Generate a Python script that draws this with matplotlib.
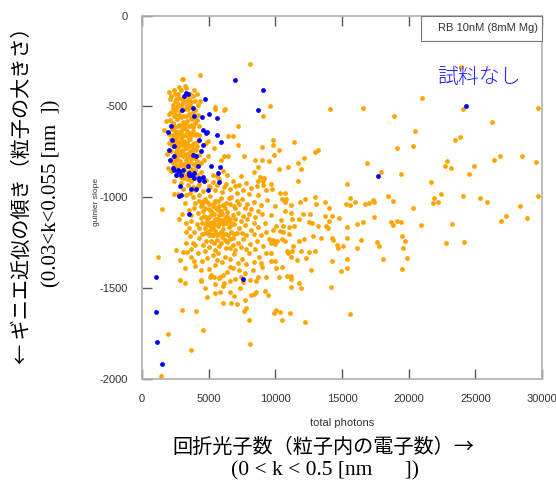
import matplotlib
matplotlib.use("Agg")
import matplotlib.pyplot as plt
from matplotlib.patches import Rectangle

plt.rcParams['axes.unicode_minus'] = False
plt.rcParams['font.family'] = ['Liberation Sans', 'DejaVu Sans']

# RB 10nM (8mM Mg) : points (total photons, guinier slope)
orange_pts = [
    # amas du haut
    (3000, -350), (3100, -350), (4375, -324), (2050, -419), (2400, -410), (2200, -440),
    (3600, -430), (3800, -445), (2800, -395), (3300, -400), (2600, -460), (3450, -470),
    (2675, -434), (2550, -459), (2125, -459), (4375, -472), (4175, -491), (3675, -478),
    (2900, -410), (3200, -440), (3500, -460), (2750, -455), (3000, -460), (3950, -470), (2450, -470),
    (2350, -490), (2700, -485), (3050, -480), (3350, -495), (3700, -505), (4000, -520),
    (2200, -530), (2500, -520), (2850, -525), (3200, -515), (3550, -540), (3900, -550),
    (2400, -555), (2950, -560), (3300, -550), (4200, -545),
    (2100, -575), (2300, -590), (2600, -570), (2800, -600), (3100, -585), (3400, -580),
    (3650, -600), (3950, -590), (4300, -610), (2250, -625), (2500, -615), (2750, -640),
    (3000, -630), (3250, -620), (3500, -645), (3800, -635), (4100, -650), (2050, -650),
    (2650, -660), (3350, -665), (1800, -582), (1675, -628),
    (2200, -680), (2450, -690), (2900, -675), (3150, -690), (3600, -680), (3900, -700),
    (4200, -690), (2350, -720), (2700, -725), (3000, -715), (3300, -730), (3550, -720),
    (3750, -745), (4050, -740), (2150, -745), (2550, -750), (2850, -760), (3450, -760),
    (2300, -780), (2650, -790), (3100, -775), (3700, -790), (4000, -785), (2450, -820),
    (2800, -830), (3150, -815), (3400, -830), (3650, -845), (3950, -825), (4400, -810),
    (2200, -855), (3000, -860), (1925, -839),
    (2600, -875), (3250, -880), (3550, -895), (3850, -870), (4150, -880), (2400, -910),
    (2900, -920), (3450, -935), (4300, -925), (3100, -955), (3800, -945), (4600, -905), (5000, -940),
    (2450, -540), (2750, -545), (3100, -550), (3450, -515), (3750, -570), (2350, -600),
    (2950, -605), (3250, -595), (3550, -610), (3850, -615), (2600, -640), (2850, -650),
    (3150, -655), (3700, -660), (2450, -705), (2750, -695), (3050, -700), (3400, -700),
    (3750, -710), (2600, -740), (2950, -745), (3250, -760), (3550, -775), (2500, -800),
    (2850, -800), (3300, -795), (3500, -810), (2650, -845), (3150, -845), (2950, -890),
    (3350, -900), (3700, -910),
    (2300, -510), (2650, -505), (2950, -500), (3250, -470), (3600, -490), (3850, -530),
    (4100, -575), (2150, -610), (2450, -640), (2700, -610), (3050, -660), (3400, -635),
    (3650, -565), (3950, -655), (4250, -660), (2300, -660), (2550, -675), (2850, -705),
    (3200, -710), (3500, -680), (3850, -735), (4100, -720), (2250, -710), (2500, -770),
    (2750, -770), (3050, -740), (3350, -780), (3600, -745), (3900, -770), (4250, -770),
    (2350, -810), (2600, -820), (2950, -825), (3250, -820), (3800, -815), (4150, -800),
    (2150, -800), (3450, -860), (3700, -880), (4000, -850), (2750, -880), (3050, -895),
    (4450, -860), (2000, -700), (1900, -760), (2050, -540), (3200, -385), (2500, -430),
    (3900, -410), (4100, -430),
    # autour de l'amas
    (6175, -518), (5475, -514), (7225, -610), (6475, -665), (6800, -661), (4925, -692),
    (4800, -701), (5425, -729), (7225, -711), (6125, -771), (6475, -775), (5925, -797),
    (4925, -775), (4625, -793), (7675, -775), (7425, -885), (6050, -857), (6375, -875),
    (5300, -875), (5625, -885), (5475, -505), (6225, -514),
    (8100, -267), (9600, -496), (9050, -555), (14100, -514), (16550, -511),
    (9825, -687), (9850, -711), (11400, -698), (9025, -725), (10275, -742), (9900, -765),
    (13225, -742), (12950, -753), (12150, -784), (8500, -793), (8975, -797), (9525, -798),
    (11675, -811), (16850, -809), (8725, -833), (10950, -833), (10300, -844), (11900, -846),
    (8400, -859), (17900, -863), (8850, -888), (9150, -893), (8725, -912), (9050, -912),
    (11675, -910), (15350, -929), (9700, -929), (9775, -954),
    # partie droite
    (23925, -280), (20975, -454), (24050, -514), (29675, -509), (18925, -555), (26225, -588),
    (20475, -637), (23825, -668), (23500, -683), (19125, -729), (20300, -720), (26850, -775),
    (26400, -793), (28500, -775), (29575, -804), (22900, -800), (22700, -830), (23150, -837),
    (24900, -830), (19450, -872), (24500, -872), (21650, -918),
    (22425, -984), (21925, -1002), (21825, -1031), (22200, -1029), (24100, -995), (25350, -1006),
    (25850, -1028), (29700, -996), (28325, -1046), (20325, -1062), (27275, -1101), (28900, -1112),
    (26950, -1132), (19425, -1134), (20900, -1152), (23250, -1150), (19475, -1214), (19750, -1242),
    (22825, -1251), (24175, -1247), (19575, -1282), (19850, -1333), (19500, -1394),
    (10350, -976), (10700, -976), (10500, -1009), (10800, -1009), (10700, -1028), (11200, -1042),
    (10000, -1046), (12200, -1009), (13000, -998), (11850, -1028), (13050, -1039), (13700, -1028),
    (14050, -1060), (15325, -1035), (15600, -1042), (15625, -1006), (16000, -1024), (16725, -1039),
    (17025, -1031), (17350, -1013), (17425, -1028), (18450, -995), (18850, -1020),
    (10700, -1075), (11200, -1086), (12100, -1093), (12600, -1093), (9700, -1097), (13700, -1104),
    (14250, -1104), (14800, -1112), (17400, -1108), (10400, -1127), (11250, -1119), (11750, -1119),
    (12550, -1137), (12750, -1141), (13200, -1159), (13800, -1159), (13950, -1170), (14000, -1130),
    (15400, -1163), (16150, -1146), (16550, -1137), (18700, -1134), (18800, -1152), (19100, -1130),
    (10050, -1159), (10600, -1159), (11000, -1163), (11400, -1159), (10350, -1187), (10600, -1192),
    (11050, -1200), (9800, -1178), (12800, -1214), (13450, -1225), (14250, -1225), (14350, -1236),
    (15400, -1225), (16400, -1236), (17650, -1247), (17800, -1269),
    (9800, -1236), (10100, -1244), (10500, -1229), (10750, -1240), (12150, -1232), (11800, -1244),
    (14650, -1265), (14700, -1280), (15050, -1269), (16100, -1280), (11350, -1269), (11250, -1295),
    (11950, -1299), (12550, -1302), (13000, -1295), (10850, -1295), (10950, -1306), (9700, -1306),
    (10000, -1258), (9700, -1255), (11200, -1328), (11600, -1346), (12300, -1335), (14250, -1353),
    (15350, -1342), (18050, -1339), (9650, -1350), (9950, -1350), (10050, -1390), (10500, -1386),
    (10250, -1437), (10900, -1434), (11150, -1434), (11200, -1448), (12650, -1401), (15350, -1390),
    (14900, -1408), (11750, -1474), (11900, -1500), (11200, -1493), (14150, -1496),
    # masse principale
    (4800, -905), (5300, -915), (5800, -900), (6300, -925), (6800, -910), (7300, -935),
    (7800, -920), (8200, -950), (5500, -960), (6000, -970), (6600, -955), (7100, -975),
    (4600, -965), (8600, -940), (9300, -960),
    (3800, -1000), (4300, -990), (4700, -1010), (5100, -995), (5500, -1020), (5900, -1005),
    (6300, -1030), (6700, -1000), (7100, -1020), (7500, -1010), (7900, -1040), (8400, -1025),
    (8900, -1045), (9400, -1015), (4500, -1040), (5300, -1050), (6100, -1045), (6900, -1050), (7700, -1060),
    (3500, -1070), (3900, -1060), (4200, -1085), (4600, -1075), (5000, -1065), (5400, -1090),
    (5700, -1070), (6000, -1095), (6400, -1080), (6800, -1100), (7200, -1085), (7600, -1105),
    (8000, -1090), (8500, -1110), (9000, -1095), (4400, -1115), (4800, -1110), (5600, -1120),
    (6200, -1115), (7000, -1120),
    (3300, -1140), (3700, -1130), (4100, -1150), (4500, -1140), (4900, -1155), (5300, -1135),
    (5700, -1160), (6100, -1145), (6500, -1165), (6900, -1150), (7300, -1170), (7700, -1155),
    (8200, -1180), (8700, -1165), (9300, -1190), (3900, -1190), (4700, -1195), (5500, -1185),
    (6300, -1200), (7100, -1195), (5100, -1180), (5900, -1190),
    (3600, -1215), (4300, -1225), (4800, -1240), (5200, -1210), (5600, -1235), (6000, -1220),
    (6400, -1245), (6800, -1225), (7200, -1250), (7600, -1230), (8100, -1260), (8600, -1240),
    (9100, -1270), (4000, -1265), (5000, -1275), (5800, -1270), (6600, -1280), (7400, -1275),
    (3400, -1300), (4200, -1310), (4700, -1295), (5300, -1320), (5700, -1305), (6200, -1330),
    (6900, -1315), (7500, -1340), (8000, -1310), (8800, -1330), (4500, -1350), (6000, -1355),
    (7200, -1360), (8400, -1355),
    (4000, -1380), (5000, -1395), (5500, -1375), (6400, -1410), (6800, -1390), (7700, -1420),
    (8300, -1400), (9000, -1385), (5800, -1445), (7000, -1450), (8700, -1440), (6100, -1430),
    (4600, -1020), (5000, -1040), (5400, -1030), (5800, -1050), (6200, -1060), (6600, -1040),
    (7000, -1060), (5200, -1100), (5800, -1100), (6600, -1120), (4700, -1170), (5300, -1170),
    (6100, -1175), (6700, -1190), (5600, -1210), (6200, -1235), (4900, -1125), (5500, -1150),
    (6300, -1140), (7400, -1130), (4400, -1050), (5000, -1210), (6800, -1265), (5400, -1250),
    (2700, -980), (3300, -990), (4000, -960), (3600, -975), (4300, -1020), (3200, -1030),
    (3000, -1095), (2800, -1120), (2375, -980),
    (4200, -940), (5100, -945), (5650, -930), (6150, -945), (6950, -940), (7550, -960),
    (8000, -985), (8700, -990), (9100, -930),
    (4000, -1030), (4900, -1025), (5700, -1020), (6500, -1005), (7300, -1040), (8200, -1065),
    (8700, -1075), (9200, -1140),
    (3700, -1100), (4300, -1170), (5100, -1140), (5900, -1125), (6700, -1140), (7500, -1195),
    (7900, -1120), (8400, -1140), (9500, -1230),
    (3500, -1170), (4500, -1200), (5300, -1210), (6100, -1205), (6900, -1205), (7800, -1210),
    (8400, -1205), (8900, -1210),
    (3800, -1250), (4600, -1265), (5500, -1290), (6300, -1280), (7000, -1290), (7800, -1285),
    (8500, -1285), (9300, -1310),
    (3700, -1330), (4900, -1335), (5600, -1345), (6600, -1340), (7800, -1370), (8900, -1365),
    (3300, -1250), (3100, -1300),
    (4400, -1400), (5200, -1430), (6600, -1460), (7300, -1400), (8100, -1455), (9300, -1440),
    (4700, -1500), (5500, -1530), (6900, -1545), (7100, -1590),
    (4750, -1060), (5150, -1075), (5550, -1060), (5950, -1075), (6350, -1105), (4650, -1105),
    (5050, -1110), (5450, -1120), (6050, -1130), (6450, -1125), (4800, -1150), (5200, -1160),
    (5750, -1140), (6600, -1160), (4950, -1190), (5700, -1200), (6450, -1210), (5150, -1240),
    (5900, -1250), (6600, -1230),
    # bas gauche
    (2525, -1291), (2875, -1346), (3225, -1390), (2825, -1456), (3275, -1189), (3675, -1288),
    (3925, -1353), (4425, -1456), (5125, -1441), (5375, -1438), (5825, -1441), (6575, -1386),
    (7425, -1441), (1500, -1064), (1225, -1330),
    (3025, -1621), (4025, -1627), (1925, -1751), (4575, -1729), (3700, -1842), (1425, -1984),
    (4875, -1551), (6050, -1584), (6650, -1582), (5850, -1520), (6625, -1522), (7725, -1569),
    (7675, -1627), (7800, -1610), (8025, -1676), (8100, -1810), (8175, -1539), (8425, -1535),
    (8575, -1524), (9200, -1514), (9475, -1539), (7375, -1500), (6075, -1489), (6125, -1470),
    (5500, -1476), (4450, -1462), (3225, -1474), (2850, -1458), (7575, -1467), (8550, -1462),
    (9925, -1636), (10075, -1621), (10325, -1632), (11100, -1639), (10475, -1674), (12200, -1685),
    (15625, -1641),
]

# 試料なし
blue_pts = [
    (6975, -353), (9050, -412), (8700, -518), (24300, -500), (17725, -881), (7575, -1452),
    (3300, -426), (3425, -434), (3175, -445), (3025, -518), (3850, -511), (3925, -555),
    (4725, -459), (5000, -540), (5625, -566), (4475, -558), (4575, -628), (4875, -642),
    (5625, -655), (5925, -694), (5175, -830), (5875, -833), (4300, -893),
    (1925, -642), (2225, -683), (2050, -738), (2425, -775), (2125, -793), (2300, -839),
    (2675, -848), (3050, -848), (3425, -830), (3800, -765), (4050, -775),
    (4175, -830), (4425, -747), (4550, -711), (4300, -683),
    (4800, -646), (2175, -610), (2425, -720), (2800, -857), (2550, -875), (3550, -875), (3925, -866),
    (2425, -849), (2725, -858), (2925, -877), (3550, -868), (3675, -877), (3925, -895),
    (4300, -904), (4550, -886), (4675, -913), (5800, -918), (5725, -866), (4925, -963),
    (2875, -939), (2925, -990), (2750, -994), (3675, -957), (4050, -957), (3500, -1091),
    (1075, -1440), (1075, -1630), (1100, -1795), (1500, -1918),
]

ox = [p[0] for p in orange_pts]
oy = [p[1] for p in orange_pts]
bx = [p[0] for p in blue_pts]
by = [p[1] for p in blue_pts]

fig = plt.figure(figsize=(5.56, 4.83), dpi=100)
ax = fig.add_axes([0.2554, 0.2159, 0.7194, 0.7516])

ax.scatter(ox, oy, s=12, color='#ffa500', linewidths=0, zorder=2)
ax.scatter(bx, by, s=12, color='#0000ff', linewidths=0, zorder=3)

ax.set_xlim(0, 30000)
ax.set_ylim(-2000, 0)
ax.set_xticks([0, 5000, 10000, 15000, 20000, 25000, 30000])
ax.set_yticks([-2000, -1500, -1000, -500, 0])

for s in ax.spines.values():
    s.set_color('#b0b0b0')
    s.set_linewidth(1.2)
ax.tick_params(direction='in', length=7.5, width=1, color='#555555',
               top=True, right=False, labelsize=8, labelcolor='#333333')
ax.tick_params(axis='x', pad=11)
ax.tick_params(axis='y', pad=10)

ax.set_xlabel('total photons', fontsize=8, color='#333333')
ax.xaxis.set_label_coords(0.5, -0.108)
ax.set_ylabel('guinier slope', fontsize=6, color='#333333')
ax.yaxis.set_label_coords(-0.105, 0.488)

# cadre de la légende
ax.add_patch(Rectangle((0.6975, 0.93), 0.3025, 0.07, transform=ax.transAxes,
                       fc='white', ec='#777777', lw=0.8, zorder=5, clip_on=False))
ax.text(0.99, 0.965, 'RB 10nM (8mM Mg)', transform=ax.transAxes, ha='right', va='center',
        fontsize=8, color='#333333', zorder=6)

ax.text(0.841, 0.831, '試料なし', transform=ax.transAxes, ha='center', va='center',
        fontsize=15, color='#2020ff', family=['Noto Sans CJK JP'], fontweight='light')

# grands titres en japonais
fig.text(323 / 556, 1 - 447 / 483, '回折光子数（粒子内の電子数）→', ha='center', va='center',
         fontsize=14.5, family=['Noto Sans CJK JP', 'DejaVu Sans'])
fig.text(325 / 556, 1 - 471 / 483, '(0 < k < 0.5 [nm      ])', ha='center', va='center',
         fontsize=15.5, family=['Liberation Serif'])
fig.text(22 / 556, 1 - 191 / 483, '← ギニエ近似の傾き（粒子の大きさ）', ha='center', va='center',
         rotation=90, fontsize=14.5, family=['Noto Sans CJK JP', 'DejaVu Sans'])
fig.text(52 / 556, 1 - 193 / 483, '(0.03<k<0.055 [nm  ])', ha='center', va='center',
         rotation=90, fontsize=15, family=['Liberation Serif'])

fig.savefig('out.png', dpi=100)
